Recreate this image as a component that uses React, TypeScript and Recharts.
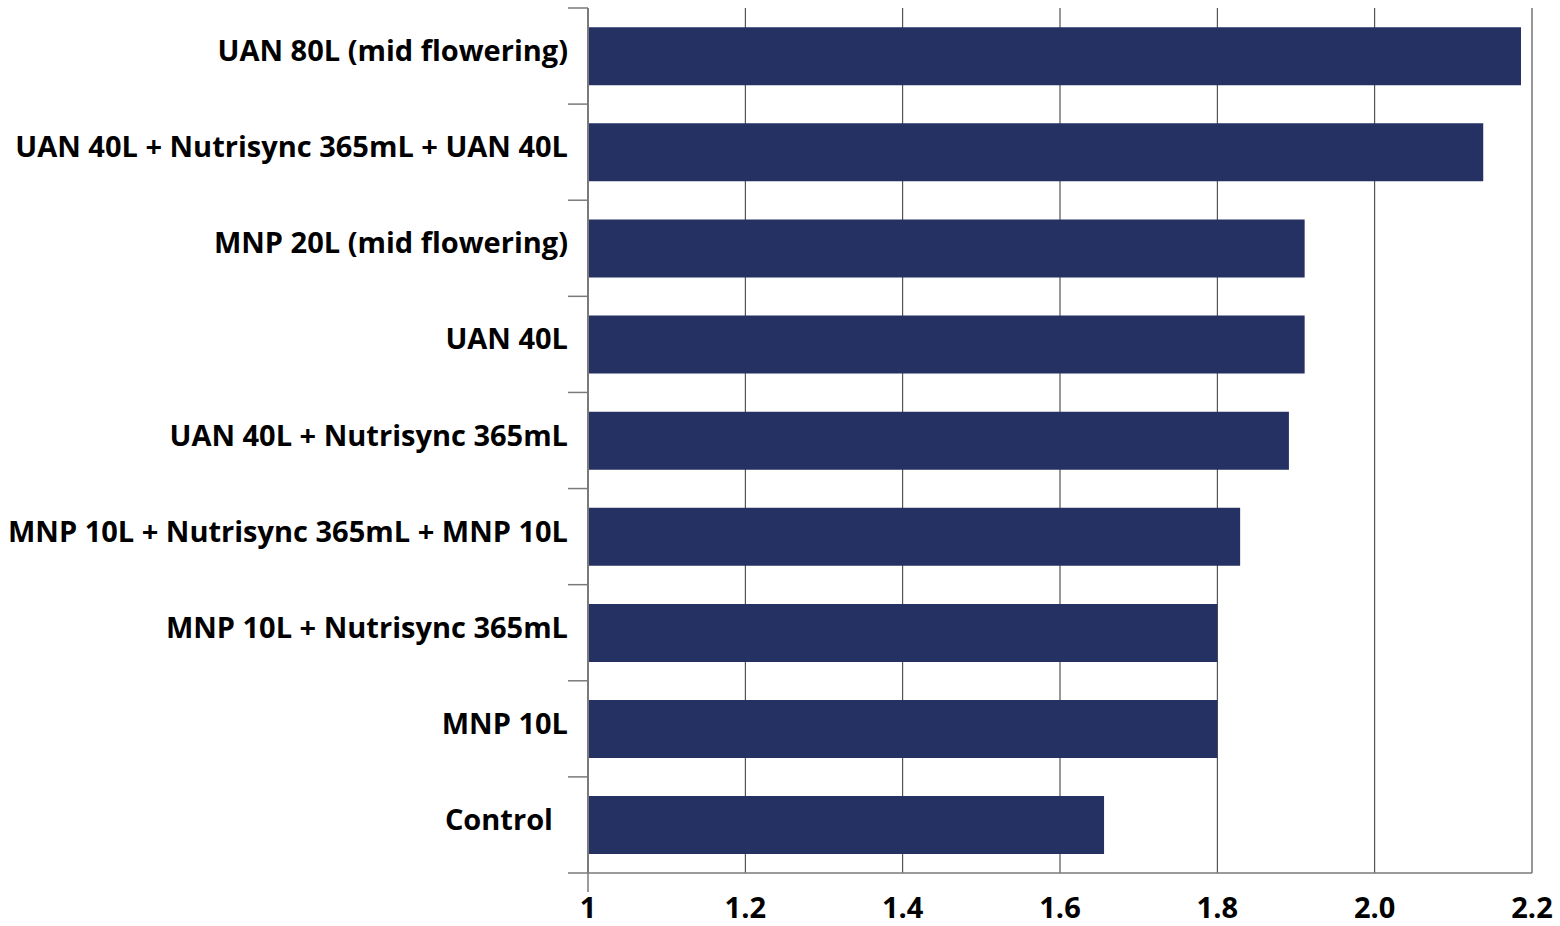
import { BarChart, Bar, XAxis, YAxis, CartesianGrid } from 'recharts'

const treatments = [
  'UAN 80L (mid flowering)',
  'UAN 40L + Nutrisync 365mL + UAN 40L',
  'MNP 20L (mid flowering)',
  'UAN 40L',
  'UAN 40L + Nutrisync 365mL',
  'MNP 10L + Nutrisync 365mL + MNP 10L',
  'MNP 10L + Nutrisync 365mL',
  'MNP 10L',
  'Control\u00A0\u00A0',
]
const yieldValues = [2.186, 2.138, 1.911, 1.911, 1.891, 1.829, 1.8, 1.8, 1.656]
const xTicks = [1, 1.2, 1.4, 1.6, 1.8, 2.0, 2.2]

const data = treatments.map((name, i) => ({ name, value: yieldValues[i] }))

const FONT = '"Open Sans", sans-serif'
const AXIS_GREY = '#7a7a7a'
const TOP = 8
const BOTTOM = 873
const BAND = (BOTTOM - TOP) / treatments.length

function CategoryTick(props: any) {
  const { x, y, payload, index } = props
  const half = BAND / 2
  return (
    <g>
      <line x1={x} x2={x + 20} y1={y - half} y2={y - half} stroke={AXIS_GREY} strokeWidth={1.5} />
      {index === treatments.length - 1 && (
        <g>
          <line x1={x} x2={x + 20} y1={y + half} y2={y + half} stroke={AXIS_GREY} strokeWidth={1.5} />
          <line x1={x + 20} x2={x + 20} y1={y + half} y2={y + half + 19} stroke={AXIS_GREY} strokeWidth={1.5} />
        </g>
      )}
      <text
        x={x}
        y={y}
        dy={5}
        textAnchor="end"
        fontFamily={FONT}
        fontWeight={700}
        fontSize={29}
        fill="#000"
      >
        {payload.value}
      </text>
    </g>
  )
}

function ValueTick(props: any) {
  const { x, y, payload } = props
  const label = payload.value === 1 ? '1' : payload.value.toFixed(1)
  return (
    <text x={x} y={y} dy={37} textAnchor="middle" fontFamily={FONT} fontWeight={700} fontSize={29} fill="#000">
      {label}
    </text>
  )
}

function App() {
  return (
    <div style={{ position: 'absolute', left: 0, top: 0, width: 1560, height: 926, background: '#fff' }}>
      <BarChart
        width={1560}
        height={926}
        layout="vertical"
        data={data}
        margin={{ top: TOP, right: 28, left: 0, bottom: 0 }}
        barCategoryGap="20%"
      >
        <CartesianGrid horizontal={false} vertical stroke="#333" strokeWidth={1} />
        <XAxis
          type="number"
          domain={[1, 2.2]}
          ticks={xTicks}
          allowDataOverflow
          height={53}
          axisLine={{ stroke: AXIS_GREY, strokeWidth: 1.5 }}
          tickLine={false}
          tick={<ValueTick />}
        />
        <YAxis
          type="category"
          dataKey="name"
          width={588}
          tickSize={0}
          tickMargin={20}
          tickLine={false}
          axisLine={{ stroke: AXIS_GREY, strokeWidth: 2 }}
          tick={<CategoryTick />}
          interval={0}
        />
        <Bar dataKey="value" fill="#253063" isAnimationActive={false} />
      </BarChart>
    </div>
  )
}

export default App
